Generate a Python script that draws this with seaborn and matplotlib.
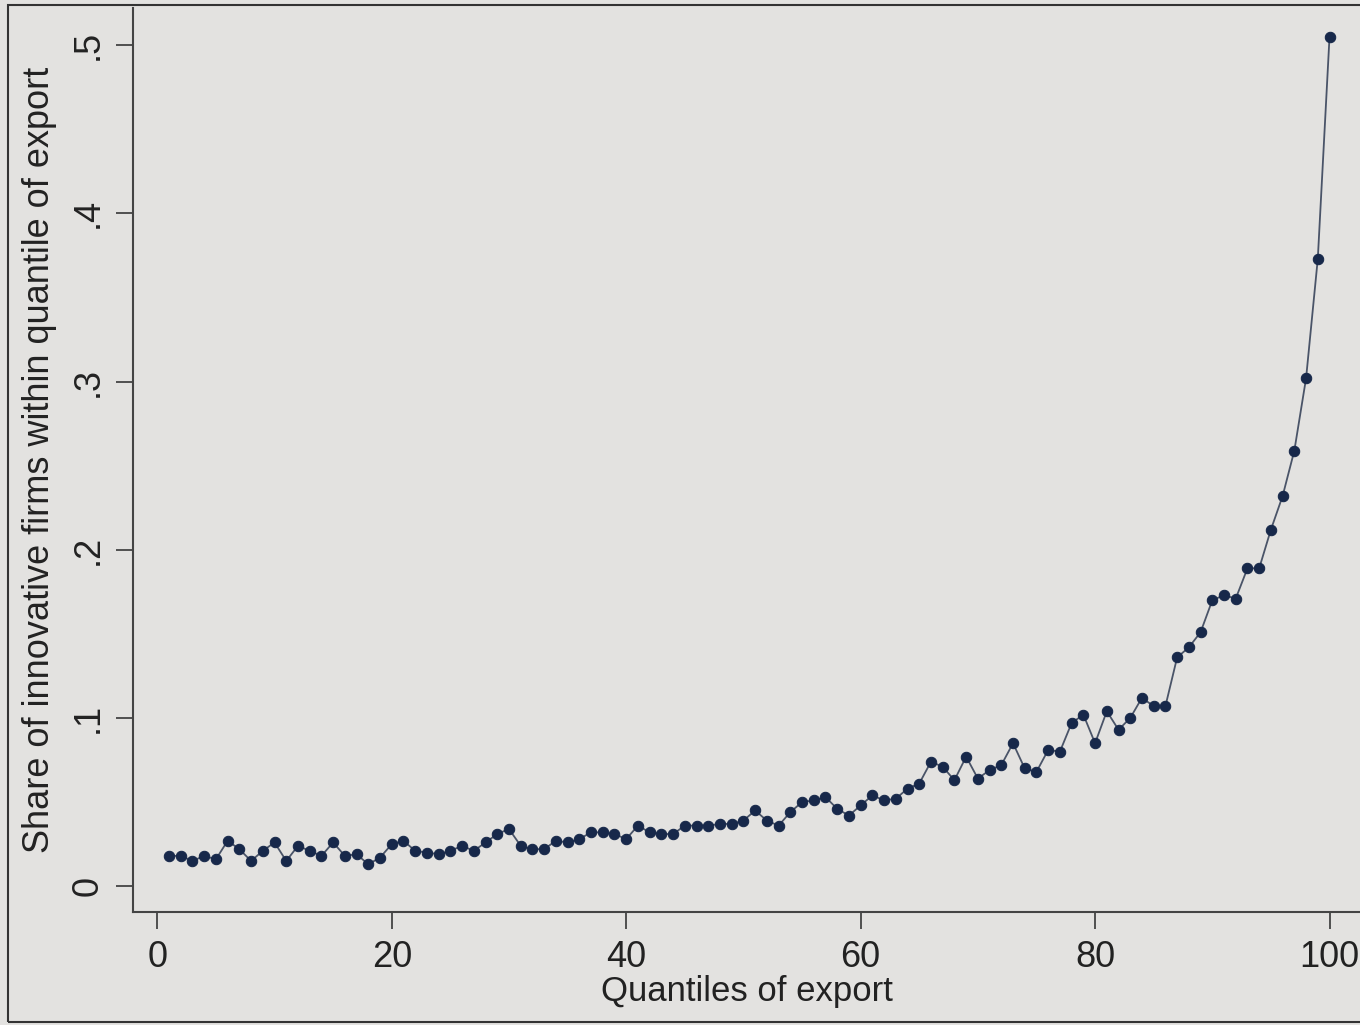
import numpy as np
import pandas as pd
import matplotlib
matplotlib.use("Agg")
import matplotlib.pyplot as plt
import seaborn as sns
from matplotlib.patches import Rectangle

# quantile index and share of innovative firms
quantiles = list(range(1, 101))
share = [
    0.018, 0.018, 0.015, 0.018, 0.016, 0.027, 0.022, 0.015, 0.021, 0.026,
    0.015, 0.024, 0.021, 0.018, 0.026, 0.018, 0.019, 0.013, 0.017, 0.025,
    0.027, 0.021, 0.020, 0.019, 0.021, 0.024, 0.021, 0.026, 0.031, 0.034,
    0.024, 0.022, 0.022, 0.027, 0.026, 0.028, 0.032, 0.032, 0.031, 0.028,
    0.036, 0.032, 0.031, 0.031, 0.036, 0.036, 0.036, 0.037, 0.037, 0.039,
    0.045, 0.039, 0.036, 0.044, 0.050, 0.051, 0.053, 0.046, 0.042, 0.048,
    0.054, 0.051, 0.052, 0.058, 0.061, 0.074, 0.071, 0.063, 0.077, 0.064,
    0.069, 0.072, 0.085, 0.070, 0.068, 0.081, 0.080, 0.097, 0.102, 0.085,
    0.104, 0.093, 0.100, 0.112, 0.107, 0.107, 0.136, 0.142, 0.151, 0.170,
    0.173, 0.171, 0.189, 0.189, 0.212, 0.232, 0.259, 0.302, 0.373, 0.505,
]
xticks = [0, 20, 40, 60, 80, 100]
yticks = [0, 0.1, 0.2, 0.3, 0.4, 0.5]
ytick_labels = ["0", ".1", ".2", ".3", ".4", ".5"]

df = pd.DataFrame({"q": quantiles, "share": share})

sns.set_theme(style="ticks")
plt.rcParams["font.family"] = ["Liberation Sans", "DejaVu Sans"]

bg = "#e3e2e0"
fig = plt.figure(figsize=(13.6, 10.25), dpi=100)
fig.patch.set_facecolor(bg)
ax = fig.add_axes([0.098, 0.110, 0.902, 0.882])
ax.set_facecolor(bg)

sns.lineplot(data=df, x="q", y="share", ax=ax, color="#4a5468", linewidth=1.3,
             marker="o", markersize=7.5, markerfacecolor="#17284a",
             markeredgecolor="#17284a")

ax.set_xlim(-2.05, 102.6)
ax.set_ylim(-0.0155, 0.522)
ax.set_xticks(xticks)
ax.set_xticklabels([str(t) for t in xticks], fontsize=26, color="#222222")
ax.set_yticks(yticks)
ax.set_yticklabels(ytick_labels, fontsize=26, rotation=90, va="center",
                   color="#222222")
ax.tick_params(axis="both", length=12, width=1.3, color="#444444", pad=8)
ax.set_xlabel("Quantiles of export", fontsize=25, color="#222222", labelpad=0)
ax.set_ylabel("Share of innovative firms within quantile of export",
              fontsize=26, color="#222222", labelpad=10)

sns.despine(ax=ax)
for side in ["left", "bottom"]:
    ax.spines[side].set_color("#444444")
    ax.spines[side].set_linewidth(1.5)

# screen frame seen in the photo
fig.patches.append(Rectangle((8 / 1360, 3 / 1025), 1.0, 1017 / 1025,
                             transform=fig.transFigure, fill=False,
                             edgecolor="#333333", linewidth=1.5))

fig.savefig("out.png", dpi=100, facecolor=fig.get_facecolor())
